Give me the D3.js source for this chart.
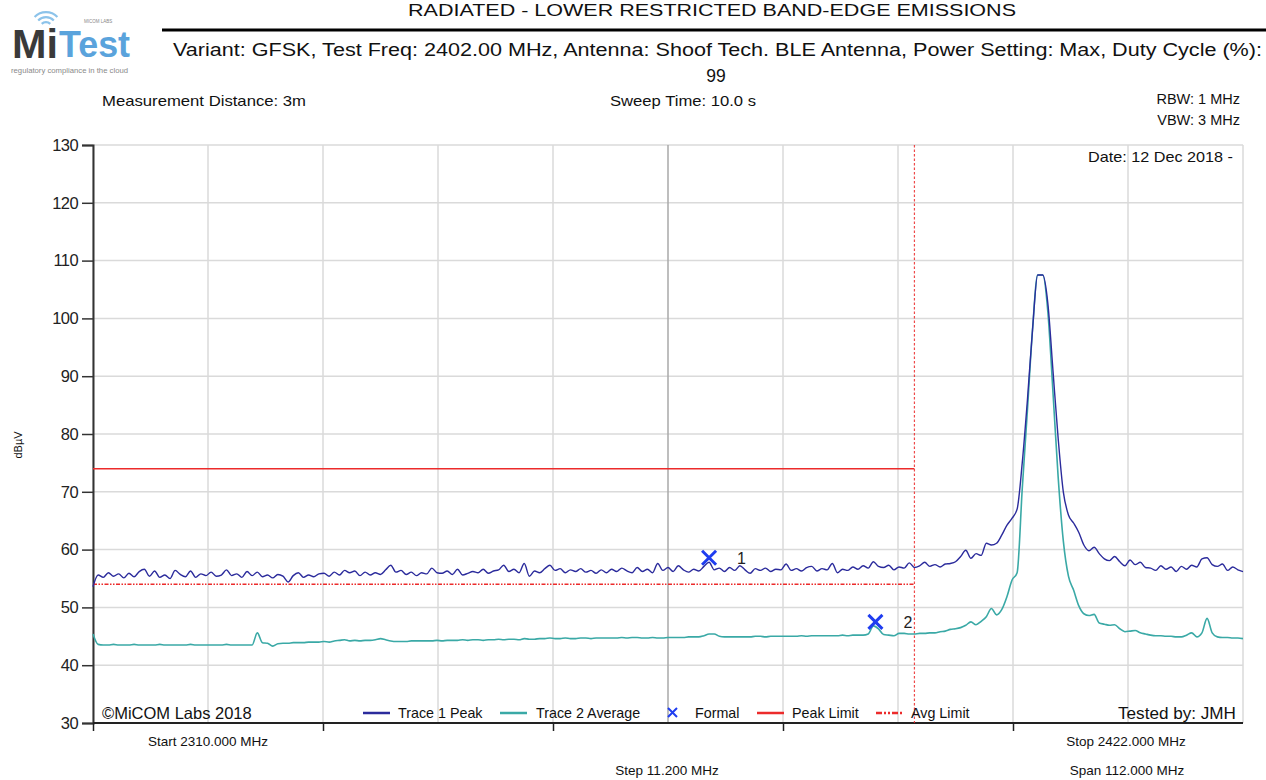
<!DOCTYPE html>
<html>
<head>
<meta charset="utf-8">
<script src="https://cdn.jsdelivr.net/npm/d3@7"></script>
<style>
  html, body { margin: 0; padding: 0; background: #fff; }
  svg { display: block; font-family: "Liberation Sans", Arial, sans-serif; }
</style>
</head>
<body>
<svg id="chart" width="1266" height="780"></svg>
<script>
// ---------- DATA ----------
const startFreq = 2310.0;   // MHz
const stopFreq = 2422.0;    // MHz
const stepFreq = 11.2;      // MHz per division
const yTicks = [30, 40, 50, 60, 70, 80, 90, 100, 110, 120, 130];

// Trace 1 Peak (dBµV), evenly spaced sweep points 2310 .. 2422 MHz
const trace1Peak = [
 53.6,55.6,55.2,56.0,55.4,55.8,55.1,55.9,55.3,56.2,
 56.6,55.4,56.3,55.2,55.6,55.0,56.4,55.7,55.3,56.3,
 55.2,55.8,55.5,56.1,55.4,55.6,56.5,55.5,55.8,55.2,
 56.2,55.5,56.1,55.3,55.6,55.1,55.7,55.4,54.4,55.5,
 56.0,55.2,55.6,55.3,55.8,55.9,55.4,56.1,55.6,56.4,
 56.0,56.3,55.5,56.1,55.6,56.0,55.7,56.5,57.3,56.1,
 56.4,55.7,56.1,55.5,56.0,55.8,56.8,56.0,55.9,56.3,
 55.7,56.6,55.6,55.9,56.2,56.0,56.6,55.9,56.3,56.5,
 57.3,56.2,56.6,56.0,57.6,55.4,56.3,56.0,56.7,57.3,
 56.4,56.7,56.0,56.5,56.2,56.7,56.1,56.4,55.9,56.5,
 56.0,56.6,56.2,56.8,56.3,56.0,56.9,56.2,56.6,56.0,
 57.6,56.4,56.9,56.2,57.2,56.5,56.1,56.6,56.3,57.1,
 57.8,56.5,56.8,56.2,56.9,56.4,57.2,56.5,55.9,56.7,
 56.4,56.8,56.2,56.6,56.5,57.5,56.4,56.7,56.3,56.9,
 57.1,56.3,56.7,56.5,57.6,56.0,56.6,56.4,57.0,56.6,
 57.2,56.8,57.9,57.1,56.9,57.3,56.5,57.0,56.8,57.7,
 56.9,57.2,57.8,57.1,57.4,57.0,57.5,57.6,57.9,58.8,
 59.9,58.5,59.3,59.0,61.1,60.8,61.1,62.5,64.2,65.4,
 67.0,75.0,85.8,98.0,107.5,107.5,102.5,90.8,79.2,70.0,
 66.0,64.6,63.0,60.8,59.8,60.4,59.3,58.4,58.1,58.8,
 57.9,57.2,58.2,57.4,57.8,56.9,56.8,56.4,57.2,56.6,
 57.0,56.2,57.1,56.6,57.3,57.0,58.4,58.6,57.4,57.1,
 57.5,56.4,57.0,56.5,56.2
];

// Trace 2 Average (dBµV), same sweep points
const trace2Average = [
 45.4,43.6,43.5,43.5,43.6,43.5,43.5,43.5,43.6,43.5,
 43.5,43.5,43.5,43.6,43.5,43.5,43.5,43.5,43.5,43.6,
 43.5,43.5,43.5,43.5,43.5,43.5,43.6,43.5,43.5,43.5,
 43.5,43.5,45.6,43.9,43.8,43.3,43.7,43.8,43.8,43.9,
 43.9,43.9,44.0,44.0,44.0,44.1,44.0,44.2,44.3,44.4,
 44.2,44.3,44.2,44.3,44.3,44.4,44.6,44.4,44.2,44.1,
 44.1,44.1,44.2,44.2,44.2,44.2,44.2,44.3,44.2,44.3,
 44.3,44.3,44.4,44.3,44.4,44.4,44.3,44.4,44.4,44.5,
 44.4,44.5,44.5,44.4,44.6,44.5,44.5,44.6,44.6,44.7,
 44.6,44.6,44.7,44.6,44.6,44.7,44.7,44.6,44.7,44.7,
 44.7,44.7,44.7,44.8,44.7,44.8,44.8,44.7,44.7,44.8,
 44.7,44.7,44.8,44.8,44.8,44.8,44.9,44.9,44.9,45.1,
 45.4,45.4,45.0,44.9,44.9,44.9,44.9,44.9,44.9,45.0,
 45.0,44.9,45.0,45.0,45.0,45.0,45.0,45.0,45.1,45.0,
 45.1,45.1,45.1,45.1,45.1,45.1,45.2,45.1,45.2,45.2,
 45.2,45.4,46.8,46.3,45.3,45.2,45.1,45.5,45.5,45.4,
 45.4,45.5,45.5,45.6,45.6,45.8,45.9,46.2,46.3,46.5,
 46.9,47.5,47.0,47.6,48.4,49.8,48.7,49.6,51.8,54.7,
 56.0,70.5,84.0,98.0,107.5,107.5,101.0,87.0,72.5,61.5,
 55.4,53.0,50.3,48.9,48.6,48.8,47.3,47.1,46.9,47.0,
 46.3,45.8,45.9,46.0,45.6,45.4,45.2,45.1,45.1,45.0,
 45.0,44.9,44.9,45.2,45.6,44.9,45.6,48.1,45.6,44.9,
 44.8,44.8,44.7,44.7,44.6
];

// Limits
const restrictedBandEdge = 2390.0;  // MHz
const peakLimit = 74.0;             // dBµV
const avgLimit = 54.0;              // dBµV

// Markers
const markerIds = ["1", "2"];
const markerFreqs = [2370.0, 2386.2];
const markerLevels = [58.6, 47.5];

// Texts
const titleText = "RADIATED - LOWER RESTRICTED BAND-EDGE EMISSIONS";
const variantLine1 = "Variant: GFSK, Test Freq: 2402.00 MHz, Antenna: Shoof Tech. BLE Antenna, Power Setting: Max, Duty Cycle (%):";
const variantLine2 = "99";
const legendLabels = ["Trace 1 Peak", "Trace 2 Average", "Formal", "Peak Limit", "Avg Limit"];

// ---------- DRAW ----------
const svg = d3.select("#chart");
const W = 1266, H = 780;
const m = { left: 93, top: 145, right: 23, bottom: 57 };
const pw = W - m.left - m.right;   // 1150
const ph = H - m.top - m.bottom;   // 578

const x = d3.scaleLinear().domain([startFreq, stopFreq]).range([m.left, m.left + pw]);
const y = d3.scaleLinear().domain([30, 130]).range([m.top + ph, m.top]);

const nPts = trace1Peak.length;
const freqs = trace1Peak.map((_, i) => startFreq + i * (stopFreq - startFreq) / (nPts - 1));
const divs = d3.range(0, 11).map(k => startFreq + k * stepFreq);

const C = {
  trace1: "#2b2b9c",
  trace2: "#3aa9a6",
  red: "#ec2b2b",
  grid: "#dadada",
  marker: "#1f3df0",
  text: "#111"
};

// --- Logo ---
const logo = svg.append("g").attr("class", "logo");
const arcCx = 46, arcCy = 28;
[7, 12, 17].forEach((r) => {
  logo.append("path")
    .attr("d", d3.arc()({ innerRadius: r - 2.2, outerRadius: r, startAngle: -0.8, endAngle: 0.8 }))
    .attr("transform", `translate(${arcCx},${arcCy})`)
    .attr("fill", "#8cc3ea");
});
logo.append("text").attr("x", 12).attr("y", 58)
  .attr("font-size", 40).attr("font-weight", "bold").attr("fill", "#3a3a3a")
  .attr("textLength", 46).attr("lengthAdjust", "spacingAndGlyphs").text("Mi");
logo.append("text").attr("x", 59).attr("y", 57)
  .attr("font-size", 36).attr("fill", "#5aa3dc").attr("font-weight", "bold")
  .attr("textLength", 71).attr("lengthAdjust", "spacingAndGlyphs").text("Test");
logo.append("text").attr("x", 84).attr("y", 23)
  .attr("font-size", 4.5).attr("fill", "#888").text("MICOM LABS");
logo.append("text").attr("x", 11).attr("y", 73)
  .attr("font-size", 6.4).attr("fill", "#8a8a8a")
  .attr("textLength", 117).attr("lengthAdjust", "spacingAndGlyphs").text("regulatory compliance in the cloud");

// --- Header ---
svg.append("text").attr("x", 408).attr("y", 16)
  .attr("font-size", 16).attr("fill", C.text)
  .attr("textLength", 608).attr("lengthAdjust", "spacingAndGlyphs").text(titleText);
svg.append("line").attr("x1", 162).attr("x2", 1266).attr("y1", 30).attr("y2", 30)
  .attr("stroke", "#000").attr("stroke-width", 3);
svg.append("text").attr("x", 173).attr("y", 56)
  .attr("font-size", 17.5).attr("fill", C.text)
  .attr("textLength", 1089).attr("lengthAdjust", "spacingAndGlyphs").text(variantLine1);
svg.append("text").attr("x", 716).attr("y", 82).attr("text-anchor", "middle")
  .attr("font-size", 17.5).attr("fill", C.text).text(variantLine2);

svg.append("text").attr("x", 102).attr("y", 106).attr("font-size", 14.5).attr("fill", C.text)
  .attr("textLength", 204).attr("lengthAdjust", "spacingAndGlyphs").text("Measurement Distance: 3m");
svg.append("text").attr("x", 610).attr("y", 106).attr("font-size", 14.5)
  .attr("fill", C.text).attr("textLength", 146).attr("lengthAdjust", "spacingAndGlyphs").text("Sweep Time: 10.0 s");
svg.append("text").attr("x", 1240).attr("y", 104).attr("text-anchor", "end").attr("font-size", 14.5)
  .attr("fill", C.text).text("RBW: 1 MHz");
svg.append("text").attr("x", 1240).attr("y", 125).attr("text-anchor", "end").attr("font-size", 14.5)
  .attr("fill", C.text).text("VBW: 3 MHz");

// --- Grid ---
const grid = svg.append("g").attr("class", "grid");
grid.selectAll("line.h").data(yTicks).join("line").attr("class", "h")
  .attr("x1", m.left).attr("x2", m.left + pw)
  .attr("y1", d => y(d)).attr("y2", d => y(d))
  .attr("stroke", C.grid).attr("stroke-width", 1.5);
grid.selectAll("line.v").data(divs).join("line").attr("class", "v")
  .attr("x1", d => x(d)).attr("x2", d => x(d))
  .attr("y1", m.top).attr("y2", m.top + ph)
  .attr("stroke", (d, i) => i === 5 ? "#a9a9a9" : C.grid).attr("stroke-width", 1.5);

// --- Axes ---
const yAxis = d3.axisLeft(y).tickValues(yTicks).tickSize(11).tickPadding(4).tickFormat(d3.format("d"));
const gy = svg.append("g").attr("transform", `translate(${m.left},0)`).call(yAxis);
gy.select(".domain").attr("stroke", "#333").attr("stroke-width", 2);
gy.selectAll(".tick line").attr("stroke", "#333").attr("stroke-width", 1.5);
gy.selectAll(".tick text").attr("font-size", 16.5).attr("fill", "#222")
  .attr("font-family", "Liberation Sans, Arial, sans-serif").attr("letter-spacing", -0.6);

const xAxis = d3.axisBottom(x).tickValues(divs.filter((d, i) => i % 2 === 0 && i < 10)).tickSize(8).tickFormat("");
const gx = svg.append("g").attr("transform", `translate(0,${m.top + ph})`).call(xAxis);
gx.select(".domain").attr("stroke", "#222").attr("stroke-width", 2).attr("d", `M${m.left},0H${m.left + pw}`);
gx.selectAll(".tick line").attr("stroke", "#222").attr("stroke-width", 1.5);

svg.append("text").attr("transform", "translate(22,445) rotate(-90)").attr("text-anchor", "middle")
  .attr("font-size", 11).attr("fill", C.text).text("dBµV");

const botFont = 13.5;
svg.append("text").attr("x", 208).attr("y", 746).attr("text-anchor", "middle").attr("font-size", botFont)
  .attr("fill", C.text).text(`Start ${startFreq.toFixed(3)} MHz`);
svg.append("text").attr("x", 667).attr("y", 775).attr("text-anchor", "middle").attr("font-size", botFont)
  .attr("fill", C.text).text(`Step ${stepFreq.toFixed(3)} MHz`);
svg.append("text").attr("x", 1126).attr("y", 746).attr("text-anchor", "middle").attr("font-size", botFont)
  .attr("fill", C.text).text(`Stop ${stopFreq.toFixed(3)} MHz`);
svg.append("text").attr("x", 1127).attr("y", 775).attr("text-anchor", "middle").attr("font-size", botFont)
  .attr("fill", C.text).text(`Span ${(stopFreq - startFreq).toFixed(3)} MHz`);

// --- Limits ---
svg.append("line").attr("x1", x(startFreq)).attr("x2", x(restrictedBandEdge))
  .attr("y1", y(peakLimit)).attr("y2", y(peakLimit))
  .attr("stroke", C.red).attr("stroke-width", 1.5);
svg.append("line").attr("x1", x(startFreq)).attr("x2", x(restrictedBandEdge))
  .attr("y1", y(avgLimit)).attr("y2", y(avgLimit))
  .attr("stroke", C.red).attr("stroke-width", 1.5).attr("stroke-dasharray", "4,1.5,1.5,1.5,1.5,1.5");
svg.append("line").attr("x1", x(restrictedBandEdge)).attr("x2", x(restrictedBandEdge))
  .attr("y1", m.top).attr("y2", m.top + ph)
  .attr("stroke", C.red).attr("stroke-width", 1.2).attr("stroke-dasharray", "2.5,2").attr("opacity", 0.85);

// --- Traces ---
const line = d3.line().x((d, i) => x(freqs[i])).y(d => y(d)).curve(d3.curveMonotoneX);
svg.append("path").datum(trace2Average).attr("d", line)
  .attr("fill", "none").attr("stroke", C.trace2).attr("stroke-width", 1.6).attr("stroke-linejoin", "round");
svg.append("path").datum(trace1Peak).attr("d", line)
  .attr("fill", "none").attr("stroke", C.trace1).attr("stroke-width", 1.4).attr("stroke-linejoin", "round");

// --- Markers ---
const mk = svg.append("g").selectAll("g").data(markerIds).join("g")
  .attr("transform", (d, i) => `translate(${x(markerFreqs[i])},${y(markerLevels[i])})`);
mk.append("path").attr("d", "M-7,-7L7,7M-7,7L7,-7").attr("stroke", C.marker).attr("stroke-width", 3);
mk.append("text").attr("x", 28).attr("y", 6).attr("font-size", 16).attr("fill", "#222").text(d => d);

// --- Legend / footer inside plot ---
const ly = 713;
svg.append("text").attr("x", 102).attr("y", 719).attr("font-size", 16.5).attr("fill", C.text).text("©MiCOM Labs 2018");
svg.append("text").attr("x", 1236).attr("y", 719).attr("text-anchor", "end").attr("font-size", 16.5).attr("fill", C.text)
  .attr("textLength", 118).attr("lengthAdjust", "spacingAndGlyphs").text("Tested by: JMH");

const legendX = [363, 500, 666, 757, 876];
const legendTextX = [398, 536, 695, 792, 911];
const lg = svg.append("g").attr("font-size", 14.3).attr("fill", C.text);
lg.append("line").attr("x1", legendX[0]).attr("x2", legendX[0] + 27).attr("y1", ly).attr("y2", ly).attr("stroke", C.trace1).attr("stroke-width", 2.5);
lg.append("line").attr("x1", legendX[1]).attr("x2", legendX[1] + 27).attr("y1", ly).attr("y2", ly).attr("stroke", C.trace2).attr("stroke-width", 2.5);
lg.append("path").attr("d", `M${legendX[2] + 2},${ly - 5}L${legendX[2] + 11},${ly + 4}M${legendX[2] + 2},${ly + 4}L${legendX[2] + 11},${ly - 5}`).attr("stroke", C.marker).attr("stroke-width", 2);
lg.append("line").attr("x1", legendX[3]).attr("x2", legendX[3] + 27).attr("y1", ly).attr("y2", ly).attr("stroke", C.red).attr("stroke-width", 2.5);
lg.append("line").attr("x1", legendX[4]).attr("x2", legendX[4] + 27).attr("y1", ly).attr("y2", ly).attr("stroke", C.red).attr("stroke-width", 2.5).attr("stroke-dasharray", "6,2,2,2,2,2");
lg.selectAll("text").data(legendLabels).join("text")
  .attr("x", (d, i) => legendTextX[i]).attr("y", ly + 5).text(d => d);

// --- Date ---
svg.append("text").attr("x", 1088).attr("y", 162).attr("font-size", 15)
  .attr("fill", C.text).attr("textLength", 145).attr("lengthAdjust", "spacingAndGlyphs").text("Date: 12 Dec 2018 -");
</script>
</body>
</html>
